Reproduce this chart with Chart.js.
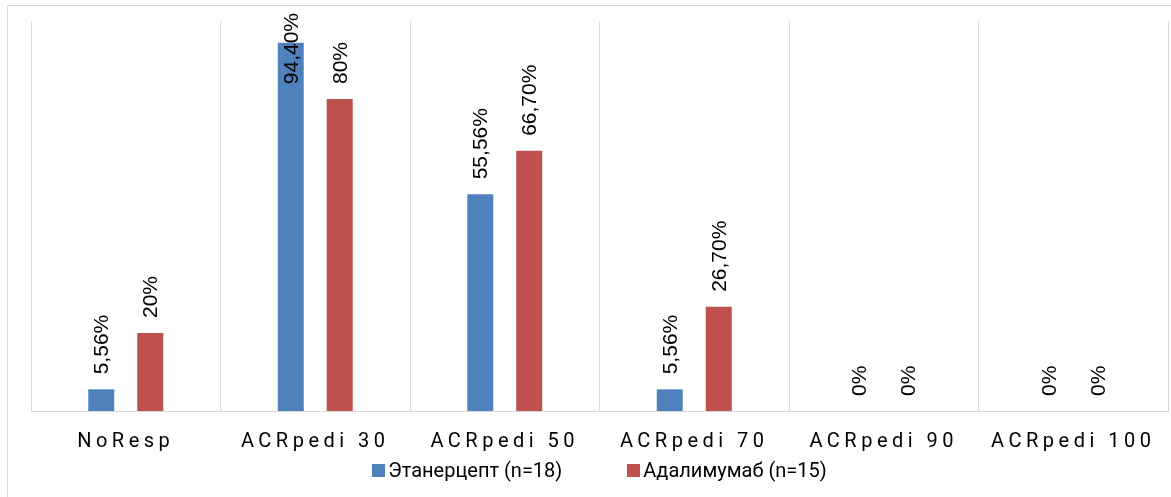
<!DOCTYPE html>
<html>
<head>
<meta charset="utf-8">
<script src="https://cdn.jsdelivr.net/npm/chart.js@4.4.1/dist/chart.umd.min.js"></script>
<style>
  html, body { margin: 0; padding: 0; background: #fff; overflow: hidden; }
  #wrap { position: relative; width: 1171px; height: 497px; }
  #frame { position: absolute; left: 7px; top: 5px; width: 1180px; height: 510px; border: 1px solid #d9d9d9; box-sizing: border-box; }
  canvas { position: absolute; left: 0; top: 0; }
  #legend { position: absolute; left: 31px; width: 1137px; top: 457px; height: 26px; display: flex; justify-content: center; align-items: center; gap: 65px; font: 20px Roboto, sans-serif; color: #000; }
  #legend .item { display: flex; align-items: center; white-space: nowrap; }
  #legend .box { width: 13px; height: 13px; margin-right: 3px; }
</style>
</head>
<body>
<div id="wrap">
  <div id="frame"></div>
  <canvas id="chart" width="1171" height="497"></canvas>
  <div id="legend"></div>
</div>
<script>
// --- DATA ---
const categories = ['NoResp', 'ACRpedi 30', 'ACRpedi 50', 'ACRpedi 70', 'ACRpedi 90', 'ACRpedi 100'];
const etanerceptValues = [5.56, 94.4, 55.56, 5.56, 0, 0];
const adalimumabValues = [20, 80, 66.7, 26.7, 0, 0];
const etanerceptLabels = ['5,56%', '94,40%', '55,56%', '5,56%', '0%', '0%'];
const adalimumabLabels = ['20%', '80%', '66,70%', '26,70%', '0%', '0%'];
const seriesNames = ['Этанерцепт (n=18)', 'Адалимумаб (n=15)'];

const blue = '#4f81bd';
const red = '#c0504d';
const gridGray = '#d9d9d9';

// value labels, rotated like in Excel
const valueLabels = {
  id: 'valueLabels',
  afterDatasetsDraw(chart) {
    const ctx = chart.ctx;
    const allLabels = [etanerceptLabels, adalimumabLabels];
    ctx.save();
    ctx.font = '21px "Liberation Sans", Arial, sans-serif';
    ctx.fillStyle = '#000';
    ctx.textAlign = 'left';
    ctx.textBaseline = 'middle';
    chart.data.datasets.forEach((ds, di) => {
      const meta = chart.getDatasetMeta(di);
      meta.data.forEach((bar, i) => {
        const txt = allLabels[di][i];
        const w = ctx.measureText(txt).width;
        let y = bar.y - 15;
        // keep inside the top of the canvas
        if (y - w < 13) y = 13 + w;
        ctx.save();
        ctx.translate(bar.x + 1, y);
        ctx.rotate(-Math.PI / 2);
        ctx.fillText(txt, 0, 0);
        ctx.restore();
      });
    });
    ctx.restore();
    // spaced out category labels (drawn after this, ticks z = 1)
    ctx.letterSpacing = '4.5px';
  },
  afterDraw(chart) {
    chart.ctx.letterSpacing = '0px';
  }
};

const ctx = document.getElementById('chart').getContext('2d');
const chart = new Chart(ctx, {
  type: 'bar',
  data: {
    labels: categories,
    datasets: [
      { label: seriesNames[0], data: etanerceptValues, backgroundColor: blue, borderWidth: 0 },
      { label: seriesNames[1], data: adalimumabValues, backgroundColor: red, borderWidth: 0 }
    ]
  },
  options: {
    responsive: false,
    animation: false,
    categoryPercentage: 0.517,
    barPercentage: 0.53,
    layout: { padding: { left: 31, right: 3, top: 21, bottom: 40 } },
    scales: {
      x: {
        grid: { color: gridGray, lineWidth: 1, drawTicks: false, offset: true },
        border: { color: gridGray, width: 1 },
        ticks: {
          z: 1,
          color: '#000',
          padding: 19,
          maxRotation: 0,
          autoSkip: false,
          font: { family: 'Roboto', size: 20 }
        },
        afterFit(scale) { scale.height = 46; }
      },
      y: { display: false, min: 0, max: 100 }
    },
    plugins: {
      legend: { display: false },
      tooltip: { enabled: false }
    }
  },
  plugins: [valueLabels]
});

// legend below the axis (html, so the gap between items can match)
const legendEl = document.getElementById('legend');
chart.data.datasets.forEach((ds) => {
  const item = document.createElement('div');
  item.className = 'item';
  const box = document.createElement('span');
  box.className = 'box';
  box.style.background = ds.backgroundColor;
  item.appendChild(box);
  item.appendChild(document.createTextNode(ds.label));
  legendEl.appendChild(item);
});
</script>
</body>
</html>
